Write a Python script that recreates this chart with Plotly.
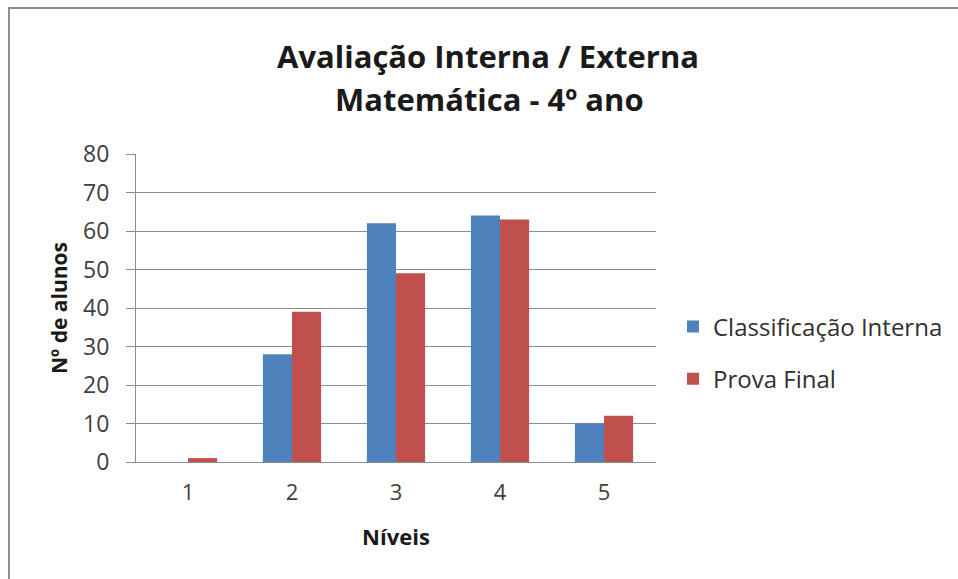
import plotly.graph_objects as go

categories = ["1", "2", "3", "4", "5"]
interna = [0, 28, 62, 64, 10]
prova_final = [1, 39, 49, 63, 12]
y_ticks = [0, 10, 20, 30, 40, 50, 60, 70, 80]
title_lines = ["Avaliação Interna / Externa", "Matemática - 4º ano"]

FONT = "Open Sans"

fig = go.Figure()
fig.add_trace(go.Bar(x=categories, y=interna, name="Classificação Interna",
                     marker=dict(color="#4F81BD", line=dict(width=0)), legendgroup="a"))
fig.add_trace(go.Bar(x=categories, y=prova_final, name="Prova Final",
                     marker=dict(color="#C0504D", line=dict(width=0)), legendgroup="b"))

L, R, T, B = 136, 656, 154, 462
W, H = 958, 579
pw, ph = R - L, B - T

def px(x):
    return (x - L) / pw

def py(y):
    return (B - y) / ph

annotations = [
    dict(text="<b>%s</b>" % title_lines[0], xref="paper", yref="paper",
         x=px(488), y=py(56), xanchor="center", yanchor="middle", showarrow=False,
         font=dict(family=FONT, size=31, color="#1a1a1a")),
    dict(text="<b>%s</b>" % title_lines[1], xref="paper", yref="paper",
         x=px(489), y=py(99), xanchor="center", yanchor="middle", showarrow=False,
         font=dict(family=FONT, size=31, color="#1a1a1a")),
]

fig.update_layout(
    width=W, height=H,
    margin=dict(l=L, r=W - R, t=T, b=H - B, pad=0, autoexpand=False),
    paper_bgcolor="white", plot_bgcolor="white",
    barmode="group", bargap=0.44, bargroupgap=0,
    font=dict(family=FONT, color="#404040"),
    annotations=annotations,
    legend=dict(x=px(673), xanchor="left", y=py(353), yanchor="middle",
                font=dict(family=FONT, size=24, color="#303030"),
                tracegroupgap=18, itemwidth=30, bgcolor="rgba(0,0,0,0)"),
    showlegend=True,
    shapes=[dict(type="rect", xref="paper", yref="paper",
                 x0=px(9), x1=px(1000), y0=py(640), y1=py(8),
                 line=dict(color="#8f8f8f", width=2), fillcolor="rgba(0,0,0,0)",
                 layer="below")],
)

fig.update_yaxes(range=[0, 80], tickvals=y_ticks, showgrid=True, gridcolor="#8c8c8c",
                 gridwidth=1, showline=True, linecolor="#8c8c8c", linewidth=1,
                 ticks="outside", ticklen=9, tickcolor="#8c8c8c", ticklabelstandoff=12,
                 tickfont=dict(family=FONT, size=23, color="#404040"),
                 title=dict(text="<b>Nº de alunos</b>", standoff=9,
                            font=dict(family=FONT, size=21, color="#1a1a1a")),
                 zeroline=False)
fig.update_xaxes(showline=True, linecolor="#8c8c8c", linewidth=1,
                 tickfont=dict(family=FONT, size=22, color="#404040"),
                 ticks="outside", ticklen=11, tickcolor="rgba(0,0,0,0)",
                 title=dict(text="<b>Níveis</b>", standoff=24,
                            font=dict(family=FONT, size=22, color="#1a1a1a")))

fig.write_html("out.html", config={"displayModeBar": False},
               post_script="document.body.style.margin='0';")
